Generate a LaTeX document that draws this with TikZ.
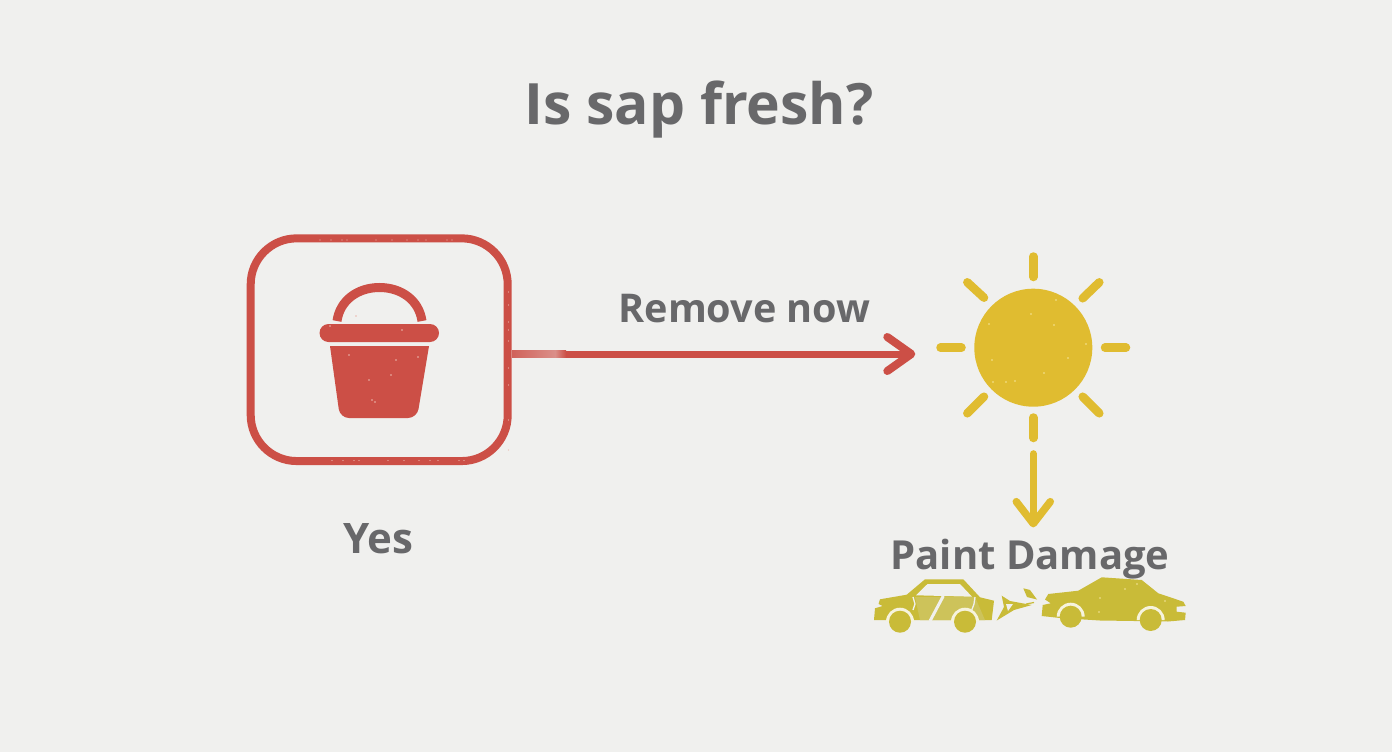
\documentclass[tikz,border=0pt]{standalone}
\usepackage{fontspec}
\setmainfont{Open Sans}
\usetikzlibrary{arrows.meta}
\definecolor{bgc}{HTML}{F0F0EE}
\definecolor{redc}{HTML}{CC4F46}
\definecolor{yelc}{HTML}{E0BC30}
\definecolor{carc}{HTML}{C9BB38}
\definecolor{carl}{HTML}{CDC35A}
\definecolor{creamc}{HTML}{F6F3DE}
\definecolor{txtc}{HTML}{68686A}
\definecolor{specr}{HTML}{EBB9AE}
\definecolor{specy}{HTML}{F5E59A}
\tikzset{
  x=1pt,y=-1pt,
  lab/.style={text=txtc,font=\bfseries\fontsize{#1}{#1}\selectfont,inner sep=0pt,anchor=base},
  raystroke/.style={draw=yelc,line width=8.5pt,line cap=round},
  redframe/.style={draw=redc,line width=8pt,rounded corners=46pt,minimum width=257pt,minimum height=222.7pt,inner sep=0pt,rectangle},
  sunshape/.style={circle,fill=yelc,draw=none,minimum size=118pt,inner sep=0pt,outer sep=0pt},
  redarrow/.style={draw=redc,line width=7pt,-{Straight Barb[length=24pt,width=34pt,line width=8pt,round]}},
  yelarrow/.style={draw=yelc,line width=7pt,line cap=round,-{Straight Barb[length=22pt,width=34pt,line width=7.5pt,round]}},
  wheel/.style={fill=carc},
}
\begin{document}
\begin{tikzpicture}
\useasboundingbox (0,0) rectangle (1392,752);
\fill[bgc] (0,0) rectangle (1392,752);

% title and labels
\node[lab=57] (title) at (699,124) {Is sap fresh?};
\node[lab=39.6] (remove) at (744.5,322.5) {Remove now};
\node[lab=42] (yes) at (378.5,553) {Yes};
\node[lab=40] (damage) at (1030,569) {Paint Damage};

% frame and bucket
\node[redframe] (box) at (379.2,349.7) {};
\draw[redc,line width=9pt] (337,321) .. controls (340,300) and (358,287.5) .. (379.5,287.5) .. controls (401,287.5) and (419,300) .. (422,321);
\fill[redc,rounded corners=9pt] (319.5,324) rectangle (439,342);
\fill[redc] (330,346) -- (429,346) [rounded corners=9pt] -- (417,418) -- (340,418) [sharp corners] -- cycle;
\foreach \p/\q in {349/355,375/402,372/400,402/330,369/380,396/360,391/375,418/357,330/326,356/316}{\fill[specr] (\p,\q) circle (0.9pt);}
\foreach \p in {320,331,342,347,376,392,407,418,426,447,452}{\fill[specr] (\p,240) circle (0.6pt);\fill[specr] (\p+12,460.5) circle (0.6pt);}
\foreach \q in {292,305,322,330,341,368,385,420,450}{\fill[specr] (508.5,\q) circle (0.6pt);}

% sun
\node[sunshape] (sun) at (1033.3,347.7) {};
\draw[raystroke] (1033.3,256.5) -- (1033.3,277);
\draw[raystroke] (1033.3,417.5) -- (1033.3,438);
\draw[raystroke] (940.5,347.7) -- (961.5,347.7);
\draw[raystroke] (1105,347.7) -- (1126,347.7);
\draw[raystroke] (967.3,282.3) -- (984,297.7);
\draw[raystroke] (1099.3,282.3) -- (1082.7,298.3);
\draw[raystroke] (984,396.7) -- (967.3,413.3);
\draw[raystroke] (1082.7,396.7) -- (1099.3,413.3);
\foreach \p/\q in {1031/314,1054/325,989/324,992/360,1068/358,1015/381,1044/373,1006/382,993/382,1086/344,1056/300}{\fill[specy] (\p,\q) circle (0.9pt);}

% connectors
\draw[redarrow,shorten >=59pt] (box.east |- 0,354) -- (sun.west |- 0,354);
\shade[left color=redc!88!bgc,right color=redc!60!bgc] (512,350.5) rectangle (555,357.5);
\shade[left color=redc!60!bgc,right color=redc] (555,350.5) rectangle (566,357.5);
\draw[yelarrow,shorten <=47pt,shorten >=11pt] (sun.south) -- (sun.south |- damage.north);

% damaged car
\fill[carc] (874,620) -- (875,608.3) -- (882.7,606) -- (878.5,604) -- (880,599.3) -- (906.7,594.7) -- (925,579.3) -- (963.3,579.3) -- (980,597.3) -- (994,600.7) -- (991.7,620) -- cycle;
\fill[carl] (915,597) -- (975,597) -- (985,620) -- (920,620) -- cycle;
\fill[bgc] (916,595.3) -- (927.5,584) -- (960,584) -- (972,596.7) -- cycle;
\draw[bgc,line width=3pt] (943.3,596) -- (930,621);
\draw[bgc,line width=1.3pt] (913,597) -- (915,604) -- (913,610);
\draw[bgc,line width=1.3pt] (975,597) -- (974,604) -- (971,612);
\fill[creamc] (886,621.7) arc (180:360:14) -- cycle;
\fill[creamc] (951,621.7) arc (180:360:14) -- cycle;
\fill[wheel] (900,621.7) circle (11pt);
\fill[wheel] (965,621.7) circle (11pt);
% fragments
\fill[carc] (1001.7,595.7) -- (1010,601) -- (1031.7,605) -- (1014,610) -- (996.7,620.5) -- (1004,607) -- cycle;
\fill[bgc] (1006,604) -- (1013,604) -- (1008,611) -- cycle;
\fill[carc] (1023.3,588.3) -- (1030,590) -- (1037,599.5) -- (1027,597) -- cycle;
\draw[carc,line width=1.2pt] (1026,604) -- (1034,602.5);

% whole car
\fill[carc] (1041.7,616) -- (1042.7,605) -- (1050.7,603.3) -- (1045,599.5) -- (1048.3,594) -- (1078.3,590.7) -- (1101.7,577.3) -- (1141.7,580) -- (1158.3,593.3) -- (1183.3,601.7) -- (1185.7,606) -- (1176.7,606.7) -- (1176.7,611.7) -- (1185.7,612.7) -- (1185,620) -- (1168,621.5) -- (1100,620.5) -- (1060,618) -- cycle;
\fill[creamc] (1056.7,616.7) arc (180:360:14) -- cycle;
\fill[creamc] (1136.7,620) arc (180:360:14) -- cycle;
\fill[wheel] (1070.7,616.7) circle (11pt);
\fill[wheel] (1150.7,620) circle (11pt);
\foreach \p/\q in {1100/598,1099/612,1125/589,1137/584,1165/601}{\fill[specy] (\p,\q) circle (0.8pt);}
\end{tikzpicture}
\end{document}
